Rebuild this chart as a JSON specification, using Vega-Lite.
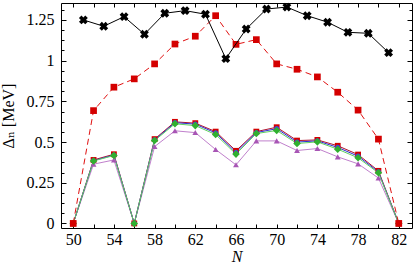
{
  "$schema": "https://vega.github.io/schema/vega-lite/v6.json",
  "width": 351,
  "height": 225,
  "autosize": {"type": "none"},
  "padding": {"left": 61, "top": 3, "right": 3, "bottom": 37},
  "config": {
    "view": {"stroke": null},
    "font": "Liberation Serif, DejaVu Serif, serif",
    "axis": {
      "grid": false,
      "domainColor": "black",
      "tickColor": "black",
      "labelColor": "black",
      "titleColor": "black",
      "labelFont": "Liberation Serif, DejaVu Serif, serif",
      "titleFont": "Liberation Serif, DejaVu Serif, serif",
      "labelFontSize": 16,
      "titleFontSize": 16,
      "titleFontWeight": "normal",
      "labelOverlap": false,
      "labelFlush": false
    }
  },
  "data": {
    "values": [
      {"s": "F", "N": 50, "v": 0}, {"s": "F", "N": 52, "v": 0.364}, {"s": "F", "N": 54, "v": 0.39}, {"s": "F", "N": 56, "v": 0}, {"s": "F", "N": 58, "v": 0.472}, {"s": "F", "N": 60, "v": 0.569}, {"s": "F", "N": 62, "v": 0.558}, {"s": "F", "N": 64, "v": 0.454}, {"s": "F", "N": 66, "v": 0.36}, {"s": "F", "N": 68, "v": 0.507}, {"s": "F", "N": 70, "v": 0.507}, {"s": "F", "N": 72, "v": 0.448}, {"s": "F", "N": 74, "v": 0.46}, {"s": "F", "N": 76, "v": 0.409}, {"s": "F", "N": 78, "v": 0.366}, {"s": "F", "N": 80, "v": 0.279}, {"s": "F", "N": 82, "v": 0},
      {"s": "C", "N": 50, "v": 0}, {"s": "C", "N": 52, "v": 0.39}, {"s": "C", "N": 54, "v": 0.425}, {"s": "C", "N": 56, "v": 0}, {"s": "C", "N": 58, "v": 0.518}, {"s": "C", "N": 60, "v": 0.624}, {"s": "C", "N": 62, "v": 0.616}, {"s": "C", "N": 64, "v": 0.564}, {"s": "C", "N": 66, "v": 0.446}, {"s": "C", "N": 68, "v": 0.564}, {"s": "C", "N": 70, "v": 0.591}, {"s": "C", "N": 72, "v": 0.509}, {"s": "C", "N": 74, "v": 0.513}, {"s": "C", "N": 76, "v": 0.477}, {"s": "C", "N": 78, "v": 0.423}, {"s": "C", "N": 80, "v": 0.323}, {"s": "C", "N": 82, "v": 0},
      {"s": "D", "N": 50, "v": 0}, {"s": "D", "N": 52, "v": 0.386}, {"s": "D", "N": 54, "v": 0.42}, {"s": "D", "N": 56, "v": 0}, {"s": "D", "N": 58, "v": 0.513}, {"s": "D", "N": 60, "v": 0.619}, {"s": "D", "N": 62, "v": 0.61}, {"s": "D", "N": 64, "v": 0.556}, {"s": "D", "N": 66, "v": 0.437}, {"s": "D", "N": 68, "v": 0.558}, {"s": "D", "N": 70, "v": 0.582}, {"s": "D", "N": 72, "v": 0.5}, {"s": "D", "N": 74, "v": 0.507}, {"s": "D", "N": 76, "v": 0.467}, {"s": "D", "N": 78, "v": 0.413}, {"s": "D", "N": 80, "v": 0.317}, {"s": "D", "N": 82, "v": 0},
      {"s": "E", "N": 50, "v": 0}, {"s": "E", "N": 52, "v": 0.384}, {"s": "E", "N": 54, "v": 0.417}, {"s": "E", "N": 56, "v": 0}, {"s": "E", "N": 58, "v": 0.509}, {"s": "E", "N": 60, "v": 0.612}, {"s": "E", "N": 62, "v": 0.601}, {"s": "E", "N": 64, "v": 0.546}, {"s": "E", "N": 66, "v": 0.426}, {"s": "E", "N": 68, "v": 0.552}, {"s": "E", "N": 70, "v": 0.571}, {"s": "E", "N": 72, "v": 0.491}, {"s": "E", "N": 74, "v": 0.501}, {"s": "E", "N": 76, "v": 0.456}, {"s": "E", "N": 78, "v": 0.403}, {"s": "E", "N": 80, "v": 0.311}, {"s": "E", "N": 82, "v": 0},
      {"s": "B", "N": 50, "v": 0}, {"s": "B", "N": 52, "v": 0.693}, {"s": "B", "N": 54, "v": 0.837}, {"s": "B", "N": 56, "v": 0.888}, {"s": "B", "N": 58, "v": 0.98}, {"s": "B", "N": 60, "v": 1.102}, {"s": "B", "N": 62, "v": 1.15}, {"s": "B", "N": 64, "v": 1.276}, {"s": "B", "N": 66, "v": 1.1}, {"s": "B", "N": 68, "v": 1.129}, {"s": "B", "N": 70, "v": 0.98}, {"s": "B", "N": 72, "v": 0.947}, {"s": "B", "N": 74, "v": 0.9}, {"s": "B", "N": 76, "v": 0.806}, {"s": "B", "N": 78, "v": 0.696}, {"s": "B", "N": 80, "v": 0.518}, {"s": "B", "N": 82, "v": 0},
      {"s": "A", "N": 51, "v": 1.25}, {"s": "A", "N": 53, "v": 1.211}, {"s": "A", "N": 55, "v": 1.27}, {"s": "A", "N": 57, "v": 1.162}, {"s": "A", "N": 59, "v": 1.291}, {"s": "A", "N": 61, "v": 1.307}, {"s": "A", "N": 63, "v": 1.285}, {"s": "A", "N": 65, "v": 1.012}, {"s": "A", "N": 67, "v": 1.194}, {"s": "A", "N": 69, "v": 1.317}, {"s": "A", "N": 71, "v": 1.329}, {"s": "A", "N": 73, "v": 1.276}, {"s": "A", "N": 75, "v": 1.236}, {"s": "A", "N": 77, "v": 1.174}, {"s": "A", "N": 79, "v": 1.168}, {"s": "A", "N": 81, "v": 1.049}
    ]
  },
  "layer": [
    {
      "mark": {"type": "point", "opacity": 0},
      "encoding": {
        "x": {"field": "N", "type": "quantitative",
          "scale": {"domain": [48.8, 83.3], "nice": false, "zero": false},
          "axis": {"orient": "bottom", "title": "N", "titleFontStyle": "italic", "titlePadding": 1,
            "values": [50, 52, 54, 56, 58, 60, 62, 64, 66, 68, 70, 72, 74, 76, 78, 80, 82],
            "labelExpr": "(datum.value - 50) % 4 === 0 ? datum.label : ''",
            "tickSize": -4, "labelPadding": 7}},
        "y": {"field": "v", "type": "quantitative",
          "scale": {"domain": [-0.028, 1.354], "nice": false, "zero": false},
          "axis": {"orient": "left", "title": "Δₙ [MeV]", "titlePadding": 10,
            "values": [0, 0.0625, 0.125, 0.1875, 0.25, 0.3125, 0.375, 0.4375, 0.5, 0.5625, 0.625, 0.6875, 0.75, 0.8125, 0.875, 0.9375, 1, 1.0625, 1.125, 1.1875, 1.25, 1.3125],
            "labelExpr": "datum.value % 0.25 === 0 ? '' + datum.value : ''",
            "tickSize": {"condition": {"test": "datum.value % 0.25 === 0", "value": -5}, "value": -3},
            "labelPadding": 12}}
      }
    },
    {
      "mark": {"type": "point", "opacity": 0},
      "encoding": {
        "x": {"field": "N", "type": "quantitative",
          "axis": {"orient": "top", "title": null, "labels": false,
            "values": [50, 52, 54, 56, 58, 60, 62, 64, 66, 68, 70, 72, 74, 76, 78, 80, 82],
            "tickSize": -4}},
        "y": {"field": "v", "type": "quantitative",
          "axis": {"orient": "right", "title": null, "labels": false,
            "values": [0, 0.0625, 0.125, 0.1875, 0.25, 0.3125, 0.375, 0.4375, 0.5, 0.5625, 0.625, 0.6875, 0.75, 0.8125, 0.875, 0.9375, 1, 1.0625, 1.125, 1.1875, 1.25, 1.3125],
            "tickSize": {"condition": {"test": "datum.value % 0.25 === 0", "value": -5}, "value": -3}}}
      }
    },
    {
      "transform": [{"filter": {"field": "s", "oneOf": ["F", "C", "D", "E"]}}],
      "mark": {"type": "line", "strokeWidth": 1},
      "encoding": {
        "x": {"field": "N", "type": "quantitative", "axis": null},
        "y": {"field": "v", "type": "quantitative", "axis": null},
        "stroke": {"field": "s", "type": "nominal", "legend": null,
          "scale": {"domain": ["F", "C", "D", "E"], "range": ["#c080cc", "#b0102a", "#3030d0", "#60d060"]}}
      }
    },
    {
      "transform": [{"filter": {"field": "s", "oneOf": ["F", "C", "D", "E"]}}],
      "mark": {"type": "point", "filled": true, "opacity": 1, "strokeWidth": 0, "size": 34},
      "encoding": {
        "x": {"field": "N", "type": "quantitative", "axis": null},
        "y": {"field": "v", "type": "quantitative", "axis": null},
        "fill": {"field": "s", "type": "nominal", "legend": null,
          "scale": {"domain": ["F", "C", "D", "E"], "range": ["#a855b5", "#d40000", "#4040e0", "#30b030"]}},
        "shape": {"field": "s", "type": "nominal", "legend": null,
          "scale": {"domain": ["F", "C", "D", "E"], "range": ["triangle-up", "square", "M0,-0.9A0.9,0.9 0 1,1 0,0.9A0.9,0.9 0 1,1 0,-0.9Z", "M0,-1.3L1.3,0L0,1.3L-1.3,0Z"]}}
      }
    },
    {
      "transform": [{"filter": {"field": "s", "equal": "B"}}],
      "mark": {"type": "line", "strokeWidth": 1, "color": "#e01010", "strokeDash": [6, 4]},
      "encoding": {
        "x": {"field": "N", "type": "quantitative", "axis": null},
        "y": {"field": "v", "type": "quantitative", "axis": null}
      }
    },
    {
      "transform": [{"filter": {"field": "s", "equal": "B"}}],
      "mark": {"type": "point", "shape": "square", "filled": true, "opacity": 1, "size": 45, "color": "#d40000"},
      "encoding": {
        "x": {"field": "N", "type": "quantitative", "axis": null},
        "y": {"field": "v", "type": "quantitative", "axis": null}
      }
    },
    {
      "transform": [{"filter": {"field": "s", "equal": "A"}}],
      "mark": {"type": "line", "strokeWidth": 1, "color": "black"},
      "encoding": {
        "x": {"field": "N", "type": "quantitative", "axis": null},
        "y": {"field": "v", "type": "quantitative", "axis": null}
      }
    },
    {
      "transform": [{"filter": {"field": "s", "equal": "A"}}],
      "mark": {"type": "point", "shape": "cross", "angle": 45, "filled": true, "opacity": 1, "size": 80, "color": "black"},
      "encoding": {
        "x": {"field": "N", "type": "quantitative", "axis": null},
        "y": {"field": "v", "type": "quantitative", "axis": null}
      }
    }
  ],
  "resolve": {"axis": {"x": "independent", "y": "independent"}}
}
